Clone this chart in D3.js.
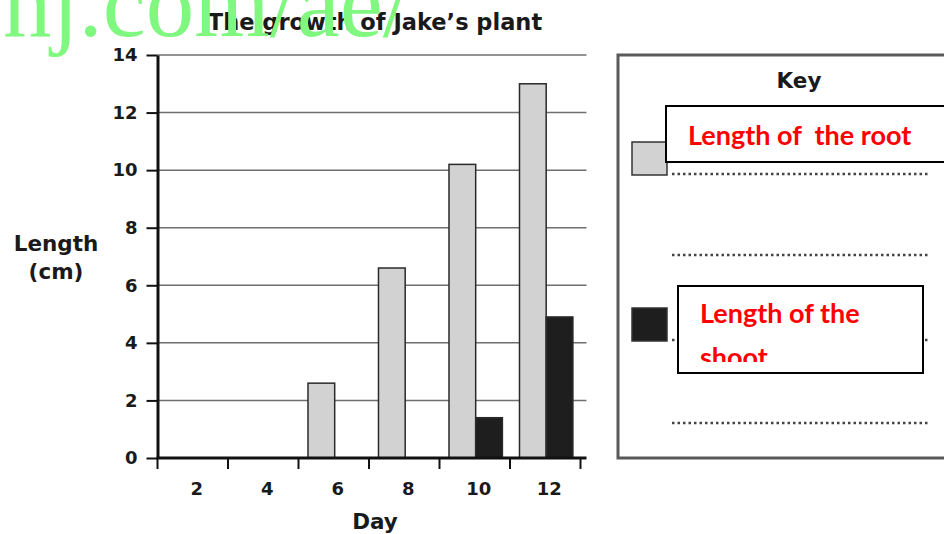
<!DOCTYPE html>
<html>
<head>
<meta charset="utf-8">
<script src="https://cdn.jsdelivr.net/npm/d3@7"></script>
<style>
body { margin: 0; background: #fff; }
</style>
</head>
<body>
<script>
const days = [2, 4, 6, 8, 10, 12];
const series = ["root", "shoot"];
const rootLength = [0, 0, 2.6, 6.6, 10.2, 13.0];
const shootLength = [0, 0, 0, 0, 1.4, 4.9];
const yTicks = [0, 2, 4, 6, 8, 10, 12, 14];
const keyLabels = [["Length of  the root"], ["Length of the", "shoot"]];
const watermark = "nj.com/ae/";

const width = 944, height = 534;
const sans = "'DejaVu Sans', sans-serif";

const svg = d3.select("body")
    .append("svg")
    .attr("width", width)
    .attr("height", height)
    .style("font-family", sans);

const x0 = d3.scaleBand().domain(days).range([157.5, 580.5]);
const x1 = d3.scaleBand().domain(series)
    .range([0, x0.bandwidth()])
    .paddingOuter(0.32)
    .align(0.555);
const y = d3.scaleLinear().domain([0, 14]).range([458, 55]);
const fill = d3.scaleOrdinal().domain(series).range(["#d2d2d2", "#1e1e1e"]);

const left = x0.range()[0], right = x0.range()[1] + 6;

// grid lines
svg.append("g")
    .selectAll("line")
    .data(yTicks.slice(1))
    .enter()
    .append("line")
    .attr("x1", left).attr("x2", right)
    .attr("y1", d => y(d)).attr("y2", d => y(d))
    .attr("stroke", "#6f6f6f")
    .attr("stroke-width", 1.5);

// bars
const rows = days.map((d, i) => ({
    day: d,
    values: [{ key: "root", v: rootLength[i] }, { key: "shoot", v: shootLength[i] }]
}));

svg.append("g")
    .selectAll("g")
    .data(rows)
    .enter()
    .append("g")
    .attr("transform", d => "translate(" + x0(d.day) + ",0)")
    .selectAll("rect")
    .data(d => d.values.filter(v => v.v > 0))
    .enter()
    .append("rect")
    .attr("x", d => x1(d.key))
    .attr("y", d => y(d.v))
    .attr("width", x1.bandwidth())
    .attr("height", d => y(0) - y(d.v))
    .attr("fill", d => fill(d.key))
    .attr("stroke", "#2a2a2a")
    .attr("stroke-width", 1.5);

// y axis
const yAxis = svg.append("g")
    .attr("transform", "translate(" + left + ",0)")
    .call(d3.axisLeft(y).tickValues(yTicks).tickSize(11).tickPadding(9).tickSizeOuter(0));
yAxis.select(".domain").attr("stroke", "#111").attr("stroke-width", 3);
yAxis.selectAll(".tick line").attr("stroke", "#111").attr("stroke-width", 2);
yAxis.selectAll(".tick text")
    .style("font-family", sans)
    .style("font-size", "18px")
    .style("font-weight", "bold")
    .attr("fill", "#1a1a1a");

// x axis: labels in band centres, ticks on band edges
const xAxis = svg.append("g")
    .attr("transform", "translate(0," + y(0) + ")")
    .call(d3.axisBottom(x0).tickSize(0).tickPadding(24));
xAxis.select(".domain").remove();
xAxis.selectAll(".tick text")
    .attr("dx", 4)
    .style("font-family", sans)
    .style("font-size", "18px")
    .style("font-weight", "bold")
    .attr("fill", "#1a1a1a");

const edges = days.map(d => x0(d)).concat([x0.range()[1]]);
svg.append("g")
    .selectAll("line")
    .data(edges)
    .enter()
    .append("line")
    .attr("x1", d => d).attr("x2", d => d)
    .attr("y1", y(0)).attr("y2", y(0) + 11)
    .attr("stroke", "#111")
    .attr("stroke-width", 2);

svg.append("line")
    .attr("x1", left - 1).attr("x2", right)
    .attr("y1", y(0)).attr("y2", y(0))
    .attr("stroke", "#111")
    .attr("stroke-width", 3);

// titles
svg.append("text")
    .attr("x", 375).attr("y", 30)
    .attr("text-anchor", "middle")
    .style("font-size", "22.5px")
    .style("font-weight", "bold")
    .attr("fill", "#1a1a1a")
    .text("The growth of Jake\u2019s plant");

svg.append("text")
    .attr("x", 375).attr("y", 529)
    .attr("text-anchor", "middle")
    .style("font-size", "21.5px")
    .style("font-weight", "bold")
    .attr("fill", "#1a1a1a")
    .text("Day");

svg.append("text")
    .attr("text-anchor", "middle")
    .style("font-size", "21.5px")
    .style("font-weight", "bold")
    .attr("fill", "#1a1a1a")
    .selectAll("tspan")
    .data(["Length", "(cm)"])
    .enter()
    .append("tspan")
    .attr("x", 56)
    .attr("y", (d, i) => 251 + i * 28)
    .text(d => d);

// key
const key = svg.append("g");
key.append("rect")
    .attr("x", 618).attr("y", 55)
    .attr("width", 340).attr("height", 403)
    .attr("fill", "none")
    .attr("stroke", "#5a5a5a")
    .attr("stroke-width", 3);

key.append("text")
    .attr("x", 799).attr("y", 88)
    .attr("text-anchor", "middle")
    .style("font-size", "21.5px")
    .style("font-weight", "bold")
    .attr("fill", "#1a1a1a")
    .text("Key");

const swatchTop = [142, 308];
key.selectAll(".swatch")
    .data(series)
    .enter()
    .append("rect")
    .attr("class", "swatch")
    .attr("x", 632).attr("y", (d, i) => swatchTop[i])
    .attr("width", 35).attr("height", 33)
    .attr("fill", d => fill(d))
    .attr("stroke", "#333")
    .attr("stroke-width", 1.5);

key.selectAll(".dots")
    .data([174, 255, 340, 423])
    .enter()
    .append("line")
    .attr("class", "dots")
    .attr("x1", 672).attr("x2", 928)
    .attr("y1", d => d).attr("y2", d => d)
    .attr("stroke", "#444")
    .attr("stroke-width", 2.5)
    .attr("stroke-dasharray", "2.5,3");

// red label boxes pasted over the key
const boxes = [
    { x: 666, y: 106, w: 300, h: 56, tx: 22, ty: 39 },
    { x: 678, y: 286, w: 245, h: 87, tx: 22, ty: 37 }
];

const defs = svg.append("defs");
boxes.forEach((b, i) => {
    defs.append("clipPath").attr("id", "clip" + i)
        .append("rect")
        .attr("x", b.x).attr("y", b.y)
        .attr("width", b.w).attr("height", b.h - 11);

    key.append("rect")
        .attr("x", b.x).attr("y", b.y)
        .attr("width", b.w).attr("height", b.h)
        .attr("fill", "#fff")
        .attr("stroke", "#000")
        .attr("stroke-width", 2);

    key.append("text")
        .attr("clip-path", "url(#clip" + i + ")")
        .style("font-family", "Lato, sans-serif")
        .style("font-size", "27px")
        .style("font-weight", "bold")
        .style("white-space", "pre")
        .attr("fill", "#ff0000")
        .selectAll("tspan")
        .data(keyLabels[i])
        .enter()
        .append("tspan")
        .attr("x", b.x + b.tx)
        .attr("y", (d, j) => b.y + b.ty + j * 44)
        .text(d => d);
});

// watermark on top
svg.append("text")
    .attr("x", 3).attr("y", 36)
    .style("font-family", "'Liberation Serif', serif")
    .style("font-size", "97px")
    .attr("fill", "#80f880")
    .text(watermark);
</script>
</body>
</html>
